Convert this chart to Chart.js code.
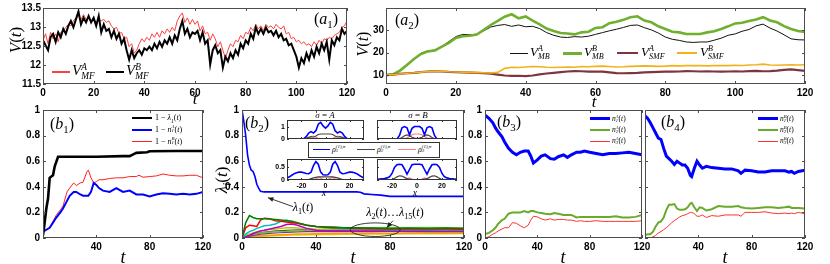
<!DOCTYPE html>
<html>
<head>
<meta charset="utf-8">
<script src="https://cdn.jsdelivr.net/npm/chart.js@4.4.0/dist/chart.umd.min.js"></script>
<style>
body { margin: 0; background: #fff; }
#wrap { position: relative; width: 830px; height: 264px; overflow: hidden; background: #fff; }
#wrap canvas { position: absolute; left: 0; top: 0; }
.lbl { position: absolute; font-family: 'Liberation Serif', 'DejaVu Serif', serif; white-space: nowrap; line-height: 1; color: #000; }
.c { transform: translate(-50%, -50%); }
.l { transform: translate(0, -50%); }
.rot { transform: translate(-50%, -50%) rotate(-90deg); }
.ss { display: inline-flex; flex-direction: column; font-size: 62%; line-height: 0.95; vertical-align: middle; font-style: italic; }
sub { font-size: 68%; line-height: 0; }
.sw { position: absolute; }
.box { position: absolute; border: 1px solid #333; background: #fff; }
</style>
</head>
<body>
<div id="wrap"></div>
<script>
// ---------- данные (a1) ----------
const tA1 = Array.from({length: 121}, (_, i) => i);
const vMFA = [
    12.65, 12.82, 12.56, 12.86, 12.69, 12.82, 12.61, 12.86, 12.9, 12.99,
    13.07, 13.03, 13.16, 13.24, 13.29, 13.2, 13.33, 13.2, 13.24, 13.16,
    13.2, 13.12, 13.2, 13.16, 13.2, 13.12, 13.16, 13.03, 12.95, 12.99,
    12.82, 12.86, 12.69, 12.73, 12.48, 12.56, 12.31, 12.39, 12.56, 12.69,
    12.61, 12.73, 12.65, 12.82, 12.73, 12.86, 12.73, 12.9, 12.82, 12.95,
    12.86, 12.99, 12.9, 13.16, 13.29, 13.37, 13.12, 13.24, 13.07, 13.2,
    13.07, 13.16, 12.9, 13.03, 12.82, 12.86, 12.65, 12.82, 12.69, 12.48,
    12.61, 12.39, 12.18, 12.39, 12.56, 12.48, 12.65, 12.61, 12.78, 12.69,
    12.86, 12.82, 12.99, 12.9, 13.07, 12.95, 13.03, 12.9, 13.07, 12.99,
    13.03, 12.95, 13.07, 12.99, 12.95, 13.03, 12.82, 12.86, 12.69, 12.73,
    12.61, 12.65, 12.56, 12.61, 12.52, 12.56, 12.48, 12.61, 12.52, 12.65,
    12.56, 12.69, 12.65, 12.73, 12.69, 12.78, 12.82, 12.86, 12.99, 13.03,
    13.16
];
const vMFB = [
    12.65, 12.52, 12.39, 12.73, 12.82, 12.61, 12.86, 12.73, 12.95, 12.82,
    13.03, 13.16, 12.99, 13.2, 13.41, 13.07, 13.24, 13.12, 13.29, 13.12,
    13.24, 13.03, 13.29, 12.86, 13.07, 12.9, 12.95, 12.73, 12.9, 12.69,
    12.82, 12.56, 12.69, 12.39, 12.14, 12.39, 12.18, 12.31, 12.39, 12.27,
    12.44, 12.39, 12.48, 12.39, 12.56, 12.44, 12.61, 12.48, 12.65, 12.56,
    12.73, 12.56, 12.78, 12.65, 12.95, 13.16, 12.82, 12.95, 12.73, 12.86,
    12.82, 12.9, 12.65, 12.86, 12.56, 12.65, 12.01, 12.39, 12.52, 12.31,
    12.39, 11.93, 12.22, 12.1, 12.31, 12.18, 12.39, 12.27, 12.56, 12.44,
    12.65, 12.56, 12.82, 12.69, 12.99, 12.82, 12.95, 12.82, 12.99, 12.86,
    12.9, 12.78, 12.9, 12.73, 12.82, 12.65, 12.69, 12.52, 12.56, 12.39,
    12.22, 11.93, 12.18, 12.05, 12.31, 12.14, 12.39, 12.22, 12.48, 12.31,
    12.56, 12.39, 12.61, 12.14, 12.65, 12.52, 12.73, 12.65, 12.95, 12.82,
    12.9
];

// ---------- данные (a2) ----------
const tA2 = Array.from({length: 61}, (_, i) => 2 * i);
const vMBA = [
    10, 10.3, 12.2, 14.8, 17.2, 19.8, 20.8, 21.2, 22.8, 25,
    27.2, 28.2, 28, 28.3, 29.8, 31.5, 32.2, 32.6, 31.8, 32.4,
    31.6, 31.8, 30.8, 29, 27.8, 27, 26.8, 27.2, 27, 27.4,
    28.2, 29, 29.8, 30.5, 31.3, 32.2, 32.4, 31.2, 30.2, 28.8,
    27, 26, 25.5, 24.8, 24.6, 24.8, 24.8, 25.6, 26.5, 27.8,
    28.4, 29.6, 30.4, 32, 32.8, 31, 29.7, 28, 26.2, 25.8,
    25.7
];
const vMBB = [
    10, 10.3, 12, 14.5, 17.2, 19.4, 20.6, 21, 22.7, 24.4,
    26.6, 27.4, 27.6, 28.1, 30.2, 32.4, 34.2, 36.1, 37.2, 35.4,
    36.2, 34.4, 32.7, 30.8, 29.7, 28.8, 28.6, 28.2, 29.1, 29.4,
    31.1, 31.4, 33.2, 33.8, 34.7, 35.9, 36.3, 34.4, 33.6, 31.8,
    30.6, 29.4, 29.1, 28.4, 28.4, 28.4, 29.1, 29.6, 30.6, 31.8,
    33.1, 33.4, 34.2, 34.9, 35.9, 34.4, 33.6, 31.9, 30.6, 29.7,
    29.3
];
const vSMFA = [
    10, 10.2, 10.5, 10.8, 11, 11.3, 11.6, 11.8, 11.6, 11.4,
    11.3, 11.2, 11.1, 11, 10.9, 10.6, 10.2, 9.8, 9.6, 9.7,
    9.5, 9.8, 10.3, 10.7, 11, 11.3, 11.6, 11.8, 11.7, 11.5,
    11.6, 11.5, 11.2, 10.9, 10.8, 10.9, 11, 11.2, 11.3, 11.4,
    11.5, 11.5, 11.6, 11.8, 11.7, 11.6, 11.7, 11.6, 11.5, 11.6,
    11.7, 11.6, 11.8, 11.9, 11.7, 11.8, 12, 12.3, 12.5, 12.2,
    11.9
];
const vSMFB = [
    10, 10.2, 10.5, 10.8, 11, 11.3, 11.6, 11.8, 11.7, 11.5,
    11.4, 11.3, 11.2, 11.1, 11, 10.9, 11.2, 13, 13.5, 13.4,
    13.6, 13.8, 13.7, 13.5, 13.4, 13.5, 13.6, 13.5, 13.8, 13.7,
    13.9, 14, 13.8, 13.6, 13.7, 13.9, 14, 14.1, 14, 13.9,
    14, 14.2, 14.1, 14.2, 14.3, 14.2, 14.1, 14.2, 14.3, 14.2,
    14.4, 14.3, 14.5, 14.6, 14.9, 14.5, 14.4, 14.5, 14.6, 14.5,
    14.6
];

// ---------- данные (b1) ----------
const tB1L = [0, 1, 2.5, 3.8, 5, 7.5, 8.8, 11.3, 20, 40, 60, 65, 68, 70, 78, 80, 100, 120];
const oneMinusL1 = [0.02, 0.1, 0.23, 0.31, 0.47, 0.49, 0.56, 0.635, 0.635, 0.635, 0.64, 0.64, 0.655, 0.665, 0.67, 0.678, 0.68, 0.68];
const tB1 = [0, 5, 10, 13, 15, 18, 20, 23, 25, 28, 30, 33, 34, 36, 38, 40, 42, 45, 50, 55, 60, 65, 70, 72, 75, 80, 85, 90, 95, 100, 105, 110, 115, 120];
const oneMinusN1A = [0.05, 0.08, 0.16, 0.2, 0.23, 0.29, 0.33, 0.36, 0.36, 0.34, 0.33, 0.33, 0.33, 0.36, 0.43, 0.415, 0.39, 0.37, 0.36, 0.39, 0.36, 0.37, 0.34, 0.34, 0.34, 0.325, 0.34, 0.35, 0.345, 0.34, 0.345, 0.34, 0.345, 0.36];
const oneMinusN1B = [0.05, 0.08, 0.18, 0.22, 0.25, 0.36, 0.39, 0.43, 0.41, 0.43, 0.435, 0.52, 0.53, 0.47, 0.43, 0.44, 0.455, 0.455, 0.465, 0.47, 0.47, 0.48, 0.48, 0.49, 0.475, 0.48, 0.485, 0.5, 0.49, 0.485, 0.485, 0.49, 0.49, 0.47];

// ---------- данные (b2) ----------
const tL1 = [0, 1, 2, 3, 4, 5, 6, 7, 8, 9, 10, 12, 30, 50, 62, 64, 66, 70, 75, 80, 120];
const lambda1 = [1.0, 0.91, 0.8, 0.65, 0.57, 0.53, 0.52, 0.48, 0.42, 0.39, 0.365, 0.36, 0.36, 0.36, 0.36, 0.358, 0.345, 0.34, 0.335, 0.325, 0.325];
const tL = [0, 2, 4, 6, 8, 10, 12, 15, 18, 21, 24, 27, 30, 35, 40, 45, 50, 55, 60, 70, 80, 90, 100, 110, 120];
const lamGreen = [0, 0.12, 0.175, 0.16, 0.15, 0.15, 0.15, 0.148, 0.145, 0.14, 0.135, 0.13, 0.12, 0.1, 0.09, 0.085, 0.085, 0.08, 0.08, 0.078, 0.075, 0.078, 0.075, 0.078, 0.075];
const lamRed = [0, 0.08, 0.1, 0.095, 0.09, 0.14, 0.155, 0.15, 0.135, 0.13, 0.125, 0.12, 0.115, 0.1, 0.09, 0.085, 0.08, 0.08, 0.075, 0.072, 0.07, 0.072, 0.07, 0.07, 0.068];
const lamCyan = [0, 0.03, 0.05, 0.06, 0.075, 0.085, 0.095, 0.1, 0.11, 0.13, 0.14, 0.125, 0.115, 0.1, 0.09, 0.08, 0.075, 0.07, 0.07, 0.068, 0.065, 0.066, 0.065, 0.064, 0.065];
const lamMagenta = [0, 0.01, 0.02, 0.035, 0.045, 0.055, 0.06, 0.07, 0.08, 0.09, 0.105, 0.11, 0.1, 0.075, 0.06, 0.055, 0.055, 0.055, 0.055, 0.055, 0.056, 0.055, 0.056, 0.055, 0.055];
const lamOlive = [0, 0.02, 0.03, 0.04, 0.05, 0.055, 0.06, 0.065, 0.07, 0.075, 0.08, 0.08, 0.078, 0.075, 0.07, 0.068, 0.065, 0.065, 0.062, 0.06, 0.062, 0.06, 0.062, 0.06, 0.06];
const lamGrey = [0, 0.01, 0.02, 0.03, 0.035, 0.04, 0.045, 0.05, 0.055, 0.058, 0.06, 0.062, 0.063, 0.063, 0.062, 0.06, 0.06, 0.061, 0.06, 0.058, 0.06, 0.058, 0.057, 0.058, 0.056];
const lamOrange = [0, 0.005, 0.01, 0.012, 0.015, 0.018, 0.02, 0.022, 0.024, 0.026, 0.028, 0.03, 0.031, 0.032, 0.033, 0.034, 0.035, 0.036, 0.036, 0.037, 0.038, 0.038, 0.039, 0.04, 0.04];
const lamYellow = [0, 0.003, 0.006, 0.008, 0.01, 0.012, 0.014, 0.016, 0.018, 0.02, 0.022, 0.023, 0.024, 0.025, 0.026, 0.027, 0.028, 0.029, 0.03, 0.031, 0.032, 0.033, 0.034, 0.034, 0.035];
const lamLime = [0, 0.015, 0.025, 0.03, 0.035, 0.04, 0.042, 0.045, 0.048, 0.05, 0.052, 0.055, 0.058, 0.06, 0.065, 0.07, 0.072, 0.075, 0.078, 0.08, 0.082, 0.08, 0.082, 0.08, 0.078];
const lamPurple = [0, 0.01, 0.015, 0.02, 0.025, 0.03, 0.033, 0.036, 0.04, 0.042, 0.045, 0.047, 0.048, 0.05, 0.05, 0.05, 0.05, 0.051, 0.05, 0.05, 0.051, 0.05, 0.05, 0.05, 0.05];

// профили плотности во вставках
const xIn = Array.from({length: 33}, (_, i) => -32 + 2 * i);
const rhoA1top = [0, 0, 0, 0, 0, 0, 0, 0.03, 0.2, 0.5, 0.62, 0.5, 0.7, 1.25, 1.4, 1.1, 0.92, 1.1, 1.4, 1.25, 0.7, 0.5, 0.62, 0.5, 0.2, 0.03, 0, 0, 0, 0, 0, 0, 0];
const rhoA2top = [0, 0, 0, 0, 0, 0, 0, 0, 0.05, 0.15, 0.2, 0.15, 0.25, 0.38, 0.42, 0.42, 0.42, 0.42, 0.42, 0.38, 0.25, 0.15, 0.2, 0.15, 0.05, 0, 0, 0, 0, 0, 0, 0, 0];
const rhoA3top = [0, 0, 0, 0, 0, 0, 0, 0, 0.02, 0.08, 0.2, 0.25, 0.15, 0.05, 0.02, 0.01, 0.01, 0.01, 0.02, 0.05, 0.15, 0.25, 0.2, 0.08, 0.02, 0, 0, 0, 0, 0, 0, 0, 0];
const rhoB1top = [0, 0, 0, 0, 0, 0, 0, 0, 0, 0.3, 0.95, 1.05, 0.95, 0.35, 0.9, 1.05, 1.05, 1.05, 0.9, 0.35, 0.95, 1.05, 0.95, 0.3, 0, 0, 0, 0, 0, 0, 0, 0, 0];
const rhoB2top = [0, 0, 0, 0, 0, 0, 0, 0, 0, 0.02, 0.12, 0.28, 0.35, 0.3, 0.15, 0.08, 0.06, 0.08, 0.15, 0.3, 0.35, 0.28, 0.12, 0.02, 0, 0, 0, 0, 0, 0, 0, 0, 0];
const rhoB3top = [0.04, 0.04, 0.04, 0.04, 0.04, 0.04, 0.04, 0.04, 0.04, 0.04, 0.05, 0.06, 0.1, 0.22, 0.35, 0.42, 0.42, 0.42, 0.35, 0.22, 0.1, 0.06, 0.05, 0.04, 0.04, 0.04, 0.04, 0.04, 0.04, 0.04, 0.04, 0.04, 0.04];
const rhoA1bot = [0.08, 0.12, 0.18, 0.24, 0.28, 0.3, 0.3, 0.28, 0.25, 0.24, 0.3, 0.55, 0.7, 0.6, 0.3, 0.2, 0.19, 0.2, 0.3, 0.6, 0.7, 0.55, 0.3, 0.24, 0.25, 0.28, 0.3, 0.3, 0.28, 0.24, 0.18, 0.12, 0.08];
const rhoA2bot = [0, 0, 0, 0, 0, 0, 0, 0, 0, 0.02, 0.05, 0.08, 0.1, 0.12, 0.12, 0.12, 0.12, 0.12, 0.12, 0.12, 0.1, 0.08, 0.05, 0.02, 0, 0, 0, 0, 0, 0, 0, 0, 0];
const rhoA3bot = [0, 0, 0, 0, 0, 0, 0, 0, 0, 0, 0, 0.01, 0.04, 0.1, 0.07, 0.02, 0.01, 0.02, 0.07, 0.1, 0.04, 0.01, 0, 0, 0, 0, 0, 0, 0, 0, 0, 0, 0];
const rhoB1bot = [0.03, 0.04, 0.05, 0.06, 0.08, 0.12, 0.25, 0.48, 0.58, 0.6, 0.58, 0.42, 0.22, 0.4, 0.58, 0.6, 0.6, 0.6, 0.58, 0.4, 0.22, 0.42, 0.58, 0.6, 0.58, 0.48, 0.25, 0.12, 0.08, 0.06, 0.05, 0.04, 0.03];
const rhoB2bot = [0, 0, 0, 0, 0, 0, 0.02, 0.06, 0.12, 0.16, 0.15, 0.1, 0.05, 0.03, 0.02, 0.02, 0.02, 0.02, 0.02, 0.03, 0.05, 0.1, 0.15, 0.16, 0.12, 0.06, 0.02, 0, 0, 0, 0, 0, 0];
const rhoB3bot = [0, 0, 0, 0, 0, 0, 0, 0, 0, 0, 0, 0.02, 0.05, 0.08, 0.04, 0.01, 0.01, 0.01, 0.04, 0.08, 0.05, 0.02, 0, 0, 0, 0, 0, 0, 0, 0, 0, 0, 0];

// ---------- данные (b3), (b4) ----------
const tB3 = [0, 3, 6, 8, 10, 13, 15, 18, 21, 24, 27, 30, 33, 35, 37, 40, 43, 46, 50, 53, 56, 60, 63, 66, 70, 73, 76, 80, 85, 90, 95, 100, 105, 110, 115, 120];
const n1A = [0.96, 0.935, 0.9, 0.86, 0.83, 0.79, 0.75, 0.70, 0.67, 0.65, 0.67, 0.68, 0.68, 0.64, 0.585, 0.61, 0.64, 0.65, 0.62, 0.615, 0.635, 0.65, 0.63, 0.65, 0.67, 0.67, 0.68, 0.67, 0.66, 0.65, 0.66, 0.66, 0.665, 0.67, 0.66, 0.65];
const n2A = [0.03, 0.04, 0.06, 0.08, 0.11, 0.14, 0.15, 0.19, 0.2, 0.2, 0.2, 0.21, 0.2, 0.21, 0.21, 0.2, 0.195, 0.19, 0.185, 0.195, 0.19, 0.18, 0.18, 0.18, 0.16, 0.165, 0.165, 0.165, 0.165, 0.165, 0.165, 0.17, 0.16, 0.16, 0.165, 0.18];
const n3A = [0, 0.01, 0.03, 0.04, 0.055, 0.07, 0.08, 0.08, 0.12, 0.115, 0.095, 0.08, 0.1, 0.14, 0.17, 0.165, 0.15, 0.14, 0.15, 0.14, 0.145, 0.145, 0.14, 0.14, 0.13, 0.135, 0.13, 0.13, 0.135, 0.13, 0.13, 0.13, 0.13, 0.13, 0.13, 0.135];
const tB4 = [0, 2, 4, 6, 8, 10, 12, 14, 16, 18, 20, 22, 24, 26, 28, 30, 32, 34, 35, 37, 39, 41, 43, 46, 50, 55, 60, 65, 70, 72, 75, 80, 85, 90, 95, 100, 105, 108, 110, 112, 115, 120];
const n1B = [0.955, 0.935, 0.9, 0.86, 0.82, 0.78, 0.77, 0.70, 0.64, 0.62, 0.6, 0.575, 0.6, 0.585, 0.57, 0.57, 0.545, 0.49, 0.48, 0.545, 0.6, 0.57, 0.545, 0.56, 0.55, 0.545, 0.54, 0.54, 0.525, 0.505, 0.53, 0.525, 0.515, 0.515, 0.525, 0.525, 0.525, 0.515, 0.52, 0.505, 0.52, 0.53];
const n2B = [0.02, 0.03, 0.03, 0.05, 0.09, 0.12, 0.13, 0.16, 0.22, 0.26, 0.26, 0.265, 0.23, 0.22, 0.22, 0.225, 0.24, 0.27, 0.275, 0.24, 0.21, 0.24, 0.235, 0.215, 0.225, 0.25, 0.245, 0.245, 0.25, 0.24, 0.235, 0.23, 0.235, 0.24, 0.24, 0.235, 0.24, 0.245, 0.235, 0.235, 0.235, 0.23];
const n3B = [0, 0, 0, 0.01, 0.02, 0.04, 0.05, 0.065, 0.08, 0.1, 0.12, 0.135, 0.15, 0.165, 0.175, 0.18, 0.19, 0.2, 0.2, 0.19, 0.17, 0.17, 0.18, 0.16, 0.175, 0.17, 0.18, 0.18, 0.18, 0.17, 0.2, 0.2, 0.2, 0.205, 0.195, 0.19, 0.195, 0.19, 0.195, 0.19, 0.2, 0.19];

const ticksT = [0, 20, 40, 60, 80, 100, 120];
const ticksTb = [0, 40, 80, 120];
const ticks01 = [0, 0.2, 0.4, 0.6, 0.8, 1];

const wrap = document.getElementById('wrap');

// рамка в стиле MATLAB с засечками внутрь
const framePlugin = {
    id: 'frame',
    beforeDatasetsDraw(chart, args, o) {
        if (!o.fill) return;
        const a = chart.chartArea, ctx = chart.ctx;
        ctx.save();
        ctx.fillStyle = '#fff';
        ctx.fillRect(a.left, a.top, a.width, a.height);
        ctx.restore();
    },
    afterDatasetsDraw(chart, args, o) {
        const {ctx, chartArea: a, scales: {x, y}} = chart;
        const len = o.tick || 3;
        ctx.save();
        ctx.strokeStyle = o.color || '#4d4d4d';
        ctx.lineWidth = 1;
        ctx.beginPath();
        x.ticks.forEach(t => {
            const p = Math.round(x.getPixelForValue(t.value)) + 0.5;
            ctx.moveTo(p, a.bottom); ctx.lineTo(p, a.bottom - len);
            ctx.moveTo(p, a.top); ctx.lineTo(p, a.top + len);
        });
        y.ticks.forEach(t => {
            const p = Math.round(y.getPixelForValue(t.value)) + 0.5;
            ctx.moveTo(a.left, p); ctx.lineTo(a.left + len, p);
            ctx.moveTo(a.right, p); ctx.lineTo(a.right - len, p);
        });
        ctx.stroke();
        ctx.strokeRect(Math.round(a.left) + 0.5, Math.round(a.top) + 0.5, Math.round(a.width) - 1, Math.round(a.height) - 1);
        ctx.restore();
    }
};

// стрелки и эллипс на (b2)
const notesPlugin = {
    id: 'notes',
    afterDatasetsDraw(chart, args, o) {
        if (!o.items) return;
        const {ctx, scales: {x, y}} = chart;
        ctx.save();
        ctx.strokeStyle = '#222';
        ctx.fillStyle = '#222';
        ctx.lineWidth = 0.9;
        o.items.forEach(it => {
            if (it.type === 'ellipse') {
                const cx = x.getPixelForValue(it.cx), cy = y.getPixelForValue(it.cy);
                const rx = Math.abs(x.getPixelForValue(it.cx + it.rx) - cx);
                const ry = Math.abs(y.getPixelForValue(it.cy + it.ry) - cy);
                ctx.beginPath();
                ctx.ellipse(cx, cy, rx, ry, 0, 0, 2 * Math.PI);
                ctx.stroke();
            } else {
                const x0 = x.getPixelForValue(it.from[0]), y0 = y.getPixelForValue(it.from[1]);
                const x1 = x.getPixelForValue(it.to[0]), y1 = y.getPixelForValue(it.to[1]);
                const ang = Math.atan2(y1 - y0, x1 - x0);
                ctx.beginPath();
                ctx.moveTo(x0, y0); ctx.lineTo(x1, y1);
                ctx.stroke();
                ctx.beginPath();
                ctx.moveTo(x1, y1);
                ctx.lineTo(x1 - 6 * Math.cos(ang - 0.4), y1 - 6 * Math.sin(ang - 0.4));
                ctx.lineTo(x1 - 6 * Math.cos(ang + 0.4), y1 - 6 * Math.sin(ang + 0.4));
                ctx.closePath();
                ctx.fill();
            }
        });
        ctx.restore();
    }
};

function line(xs, ys, color, w) {
    return {
        data: xs.map((x, i) => ({x: x, y: ys[i]})),
        borderColor: color,
        borderWidth: w,
        pointRadius: 0,
        fill: false,
        tension: 0
    };
}

// box — область графика в координатах страницы
function panel(box, cfg, datasets) {
    const cv = document.createElement('canvas');
    cv.width = 830;
    cv.height = 264;
    wrap.appendChild(cv);
    const yW = cfg.yW || 40, xH = 20;
    const tickFont = {family: "'Liberation Sans', Arial, sans-serif", weight: 'bold', size: cfg.fs || 10, lineHeight: 1.2};
    new Chart(cv, {
        type: 'line',
        data: {datasets: datasets.slice().reverse()},
        options: {
            responsive: false,
            animation: false,
            events: [],
            layout: {padding: {left: box.l - yW, top: box.t, right: 830 - box.r, bottom: 264 - box.b - xH}},
            plugins: {
                legend: {display: false},
                tooltip: {enabled: false},
                frame: {fill: cfg.fill, color: cfg.frameColor, tick: cfg.tick},
                notes: {items: cfg.notes}
            },
            scales: {
                x: {
                    type: 'linear', min: cfg.x[0], max: cfg.x[1],
                    afterBuildTicks: s => { s.ticks = cfg.xt.map(v => ({value: v})); },
                    afterFit: s => { s.height = xH; },
                    grid: {display: false, drawTicks: false},
                    border: {display: false},
                    ticks: {
                        display: cfg.xLab !== false,
                        font: tickFont, color: '#000', padding: cfg.xPad || 3,
                        maxRotation: 0, autoSkip: false,
                        callback: v => (cfg.hideX0 && v === 0) ? '' : String(v)
                    }
                },
                y: {
                    type: 'linear', min: cfg.y[0], max: cfg.y[1],
                    afterBuildTicks: s => { s.ticks = cfg.yt.map(v => ({value: v})); },
                    afterFit: s => { s.width = yW; },
                    grid: {display: false, drawTicks: false},
                    border: {display: false},
                    ticks: {
                        display: cfg.yLab !== false,
                        font: tickFont, color: '#000', padding: cfg.yPad || 3,
                        autoSkip: false,
                        callback: v => String(v)
                    }
                }
            }
        },
        plugins: [framePlugin, notesPlugin]
    });
}

// (a1)
panel({l: 43, t: 6, r: 347, b: 84},
    {x: [0, 120], xt: ticksT, y: [11.5, 13.5], yt: [11.5, 12, 12.5, 13, 13.5], yPad: 2},
    [line(tA1, vMFA, '#ff4040', 1), line(tA1, vMFB, '#000', 2)]);

// (a2)
panel({l: 386, t: 6, r: 805, b: 84},
    {x: [0, 120], xt: ticksT, y: [6, 40], yt: [10, 20, 30], yPad: 2},
    [line(tA2, vMBA, '#111', 1), line(tA2, vMBB, '#70b02e', 2.6),
     line(tA2, vSMFA, '#7d3540', 2.2), line(tA2, vSMFB, '#f2b21b', 1.6)]);

// (b1)
panel({l: 43, t: 110, r: 203, b: 238},
    {x: [0, 120], xt: ticksTb, y: [0, 1], yt: ticks01, hideX0: true},
    [line(tB1, oneMinusN1B, '#ff2020', 1), line(tB1, oneMinusN1A, '#0000ff', 2),
     line(tB1L, oneMinusL1, '#000', 2.6)]);

// (b2)
panel({l: 242, t: 110, r: 464, b: 238},
    {x: [0, 120], xt: ticksTb, y: [0, 1], yt: ticks01,
     notes: [
        {type: 'arrow', from: [27.6, 0.245], to: [14, 0.315]},
        {type: 'arrow', from: [81.6, 0.135], to: [78.2, 0.08]},
        {type: 'ellipse', cx: 72, cy: 0.065, rx: 13.5, ry: 0.053}
     ]},
    [line(tL, lamYellow, '#e6c800', 1.5), line(tL, lamOrange, '#ff9900', 1.5),
     line(tL, lamPurple, '#7e2f8e', 1.3), line(tL, lamGrey, '#555', 1.3),
     line(tL, lamLime, '#66cc33', 1.3), line(tL, lamOlive, '#bfbf00', 1.3),
     line(tL, lamMagenta, '#bf00bf', 1.5), line(tL, lamCyan, '#00bfbf', 1.5),
     line(tL, lamRed, '#ff0000', 1.5), line(tL, lamGreen, '#008000', 1.5),
     line(tL1, lambda1, '#0000ff', 1.6)]);

// вставки (b2)
const inFs = 7;
panel({l: 287, t: 120, r: 364, b: 139},
    {x: [-32, 32], xt: [-20, 0, 20], y: [0, 1.6], yt: [0, 1], xLab: false, yW: 14, fs: inFs, yPad: 2, fill: true, frameColor: '#333', tick: 2},
    [line(xIn, rhoA3top, '#ff8080', 1.2), line(xIn, rhoA2top, '#444', 1.2), line(xIn, rhoA1top, '#0000ff', 1.6)]);
panel({l: 377, t: 120, r: 457, b: 139},
    {x: [-32, 32], xt: [-20, 0, 20], y: [0, 1.6], yt: [0, 1], xLab: false, yLab: false, yW: 14, fs: inFs, fill: true, frameColor: '#333', tick: 2},
    [line(xIn, rhoB3top, '#ff8080', 1.2), line(xIn, rhoB2top, '#444', 1.2), line(xIn, rhoB1top, '#0000ff', 1.6)]);
panel({l: 287, t: 159, r: 364, b: 180},
    {x: [-32, 32], xt: [-20, 0, 20], y: [0, 0.8], yt: [0, 0.5], yW: 14, fs: inFs, yPad: 2, xPad: 2, fill: true, frameColor: '#333', tick: 2},
    [line(xIn, rhoA3bot, '#ff8080', 1.2), line(xIn, rhoA2bot, '#444', 1.2), line(xIn, rhoA1bot, '#0000ff', 1.6)]);
panel({l: 377, t: 159, r: 457, b: 180},
    {x: [-32, 32], xt: [-20, 0, 20], y: [0, 0.8], yt: [0, 0.5], yLab: false, yW: 14, fs: inFs, xPad: 2, fill: true, frameColor: '#333', tick: 2},
    [line(xIn, rhoB3bot, '#ff8080', 1.2), line(xIn, rhoB2bot, '#444', 1.2), line(xIn, rhoB1bot, '#0000ff', 1.6)]);

// (b3)
panel({l: 485, t: 110, r: 642, b: 238},
    {x: [0, 120], xt: ticksTb, y: [0, 1], yt: ticks01, yW: 26},
    [line(tB3, n3A, '#ff3030', 1), line(tB3, n2A, '#6aaa2a', 2), line(tB3, n1A, '#0000ff', 3)]);

// (b4)
panel({l: 645, t: 110, r: 805, b: 238},
    {x: [0, 120], xt: ticksTb, y: [0, 1], yt: ticks01, yLab: false, yW: 10, hideX0: true},
    [line(tB4, n3B, '#ff3030', 1), line(tB4, n2B, '#6aaa2a', 2), line(tB4, n1B, '#0000ff', 3)]);

// ---------- подписи ----------
function txt(html, x, y, size, cls, extra) {
    const d = document.createElement('div');
    d.className = 'lbl ' + (cls || 'c');
    d.style.left = x + 'px';
    d.style.top = y + 'px';
    d.style.fontSize = size + 'px';
    if (extra) Object.assign(d.style, extra);
    d.innerHTML = html;
    wrap.appendChild(d);
}
function sw(x0, x1, y, color, w) {
    const d = document.createElement('div');
    d.className = 'sw';
    d.style.left = x0 + 'px';
    d.style.width = (x1 - x0) + 'px';
    d.style.top = (y - w / 2) + 'px';
    d.style.height = w + 'px';
    d.style.background = color;
    wrap.appendChild(d);
}
const ss = (sup, sub) => `<span class="ss"><span>${sup}</span><span>${sub}</span></span>`;
const V = '<i>V</i>';
const Vt = `${V}(<i>t</i>)`;
const pan = (l, n) => `(<i>${l}</i><sub>${n}</sub>)`;

txt(Vt, 15, 40, 17, 'rot');
txt(Vt, 363, 44, 16, 'rot');
txt('<i>λ<sub>i</sub></i>(<i>t</i>)', 221, 180, 17, 'rot');
txt('<i>t</i>', 195, 98, 17);
txt('<i>t</i>', 594, 101, 17);
txt('<i>t</i>', 123, 257, 18);
txt('<i>t</i>', 353, 257, 18);
txt('<i>t</i>', 563, 257, 18);
txt('<i>t</i>', 725, 257, 18);

txt(pan('a', 1), 326, 19, 16);
txt(pan('a', 2), 407, 20, 16);
txt(pan('b', 1), 62, 124, 16);
txt(pan('b', 2), 257, 123, 16);
txt(pan('b', 3), 509, 122, 16);
txt(pan('b', 4), 673, 122, 16);

// легенда (a1)
sw(52, 70, 72, '#ff4040', 1.2);
txt(V + ss('A', 'MF'), 72, 72, 15, 'l');
sw(106, 124, 72, '#000', 2.5);
txt(V + ss('B', 'MF'), 126, 72, 15, 'l');

// легенда (a2)
sw(510, 528, 53, '#111', 1);
txt(V + ss('A', 'MB'), 530, 53, 13, 'l');
sw(563, 582, 53, '#70b02e', 3);
txt(V + ss('B', 'MB'), 584, 53, 13, 'l');
sw(617, 638, 53, '#7d3540', 2.5);
txt(V + ss('A', 'SMF'), 641, 53, 13, 'l');
sw(677, 697, 53, '#f2b21b', 2);
txt(V + ss('B', 'SMF'), 700, 53, 13, 'l');

// легенда (b1)
sw(132, 152, 118, '#000', 2.6);
txt('1 − <i>λ</i><sub>1</sub>(<i>t</i>)', 155, 118, 8, 'l');
sw(132, 152, 129.5, '#0000ff', 2);
txt('1 − <i>n</i>' + ss('A', '1') + '(<i>t</i>)', 155, 129.5, 8, 'l');
sw(132, 152, 141.5, '#ff2020', 1);
txt('1 − <i>n</i>' + ss('B', '1') + '(<i>t</i>)', 155, 141.5, 8, 'l');

// легенды (b3), (b4)
[[590, 'A'], [758, 'B']].forEach(([x0, s]) => {
    sw(x0, x0 + 20, 118.5, '#0000ff', 3);
    txt('<i>n</i>' + ss(s, '1') + '(<i>t</i>)', x0 + 22, 118.5, 7.5, 'l');
    sw(x0, x0 + 20, 129.5, '#6aaa2a', 2);
    txt('<i>n</i>' + ss(s, '2') + '(<i>t</i>)', x0 + 22, 129.5, 7.5, 'l');
    sw(x0, x0 + 20, 141, '#ff3030', 1);
    txt('<i>n</i>' + ss(s, '3') + '(<i>t</i>)', x0 + 22, 141, 7.5, 'l');
});

// вставки: заголовки, легенда, оси
txt('<i>σ</i> = <i>A</i>', 325, 115, 9);
txt('<i>σ</i> = <i>B</i>', 418, 115, 9);
txt('<i>x</i>', 324, 193, 10);
txt('<i>x</i>', 415, 193, 10);
const bx = document.createElement('div');
bx.className = 'box';
Object.assign(bx.style, {left: '308px', top: '142px', width: '130px', height: '14px'});
wrap.appendChild(bx);
sw(313, 330, 149.5, '#0000ff', 1.6);
txt('<i>ρ</i>' + ss('(1),σ', '1'), 332, 149.5, 8, 'l');
sw(357, 375, 149.5, '#444', 1.4);
txt('<i>ρ</i>' + ss('(1),σ', '2'), 377, 149.5, 8, 'l');
sw(398, 416, 149.5, '#ff8080', 1.4);
txt('<i>ρ</i>' + ss('(1),σ', '3'), 418, 149.5, 8, 'l');

// подписи к стрелкам (b2)
txt('<i>λ</i><sub>1</sub>(<i>t</i>)', 303, 207, 12);
txt('<i>λ</i><sub>2</sub>(<i>t</i>)…<i>λ</i><sub>15</sub>(<i>t</i>)', 395, 212, 12);
</script>
</body>
</html>
